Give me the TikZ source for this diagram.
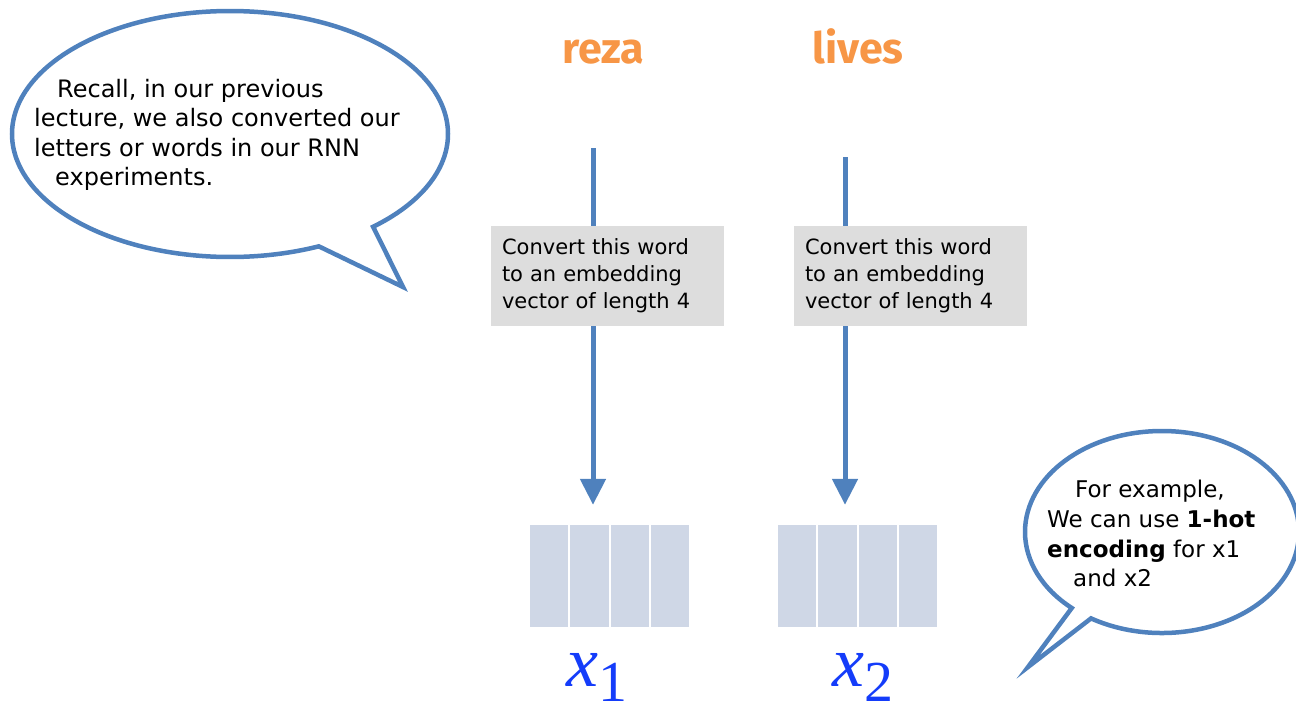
\documentclass[tikz,border=0pt]{standalone}
\usepackage{fontspec}
\usetikzlibrary{arrows.meta,shapes.callouts}
\newfontfamily\bodyfont{DejaVu Sans}
\newfontfamily\wordfont{Fira Sans}
\newfontfamily\varfont{Liberation Serif}
\definecolor{edgeblue}{HTML}{4F81BD}
\definecolor{wordorange}{HTML}{F79646}
\definecolor{boxgray}{HTML}{DDDDDD}
\definecolor{cellblue}{HTML}{CFD7E6}
\definecolor{varblue}{RGB}{20,60,250}
\begin{document}
\begin{tikzpicture}[x=1pt,y=-1pt,
  bubble/.style={ellipse callout, draw=edgeblue, line width=4.5pt, fill=white, inner sep=0pt},
  bubbletext/.style={anchor=base west, inner sep=0pt, font=\bodyfont\fontsize{24}{29}\selectfont},
  smalltext/.style={anchor=base west, inner sep=0pt, font=\bodyfont\fontsize{23}{29}\selectfont},
  word/.style={anchor=base, inner sep=0pt, text=wordorange, font=\wordfont\bfseries\fontsize{43}{43}\selectfont},
  flow/.style={draw=edgeblue, line width=5pt},
  flowtip/.style={flow, -{Triangle[width=25pt,length=26pt]}, shorten >=20pt},
  embedbox/.style={fill=boxgray, minimum height=100pt, text width=211pt, inner xsep=11pt, inner ysep=0pt, align=left, font=\bodyfont\fontsize{21}{27}\selectfont},
  cell/.style={fill=cellblue, minimum width=38.25pt, minimum height=102pt, inner sep=0pt},
  vecframe/.style={minimum width=159pt, minimum height=102pt, inner sep=0pt},
  var/.style={anchor=base west, inner sep=0pt, text=varblue}
]
\useasboundingbox (0,0) rectangle (1296,707);

% speech bubbles
\node[bubble, minimum width=436pt, minimum height=246pt,
      callout absolute pointer={(403,287)}, callout pointer arc=17] (recall) at (230,134) {};
\node[bubble, minimum width=274pt, minimum height=202pt,
      callout absolute pointer={(1028,667)}, callout pointer arc=10] (hint) at (1162,532) {};

\node[bubbletext] (r1) at (57,97) {Recall, in our previous};
\node[bubbletext] (r2) at (34,126) {lecture, we also converted our};
\node[bubbletext] (r3) at (34,156) {letters or words in our RNN};
\node[bubbletext] (r4) at (55,185) {experiments.};

\node[smalltext] (h1) at (1075,497) {For example,};
\node[smalltext] (h2) at (1047,527) {We can use \textbf{1-hot}};
\node[smalltext] (h3) at (1047,557) {\textbf{encoding} for x1};
\node[smalltext] (h4) at (1073,586) {and x2};

% input words
\node[word] (w1) at (603,63) {reza};
\node[word] (w2) at (858,63) {lives};

% embedding vectors (four cells each)
\node[vecframe] (v1) at (609.5,576) {};
\node[vecframe] (v2) at (857.5,576) {};
\foreach \v/\x in {v1/530, v2/778} {
  \foreach \k in {0,1,2,3} {
    \node[cell] (\v c\k) at ({\x+19.125+\k*40.25},576) {};
  }
}

% arrow start points
\coordinate (s1) at (593,148);
\coordinate (s2) at (845,157);

% lookup boxes
\node[embedbox] (e1) at (607.5,276) {Convert this word\\to an embedding\\vector of length 4};
\node[embedbox] (e2) at (910.5,276) {Convert this word\\to an embedding\\vector of length 4};

% arrows, interrupted by the boxes
\draw[flow] (s1) -- (s1 |- e1.north);
\draw[flowtip] (s1 |- e1.south) -- (s1 |- v1.north);
\draw[flow] (s2) -- (s2 |- e2.north);
\draw[flowtip] (s2 |- e2.south) -- (s2 |- v2.north);

% vector names
\node[var] (x1) at (566,686) {\varfont\itshape\fontsize{72}{72}\selectfont x\raisebox{-15pt}{\upshape\fontsize{58}{58}\selectfont 1}};
\node[var] (x2) at (832,686) {\varfont\itshape\fontsize{72}{72}\selectfont x\raisebox{-15pt}{\upshape\fontsize{58}{58}\selectfont 2}};
\end{tikzpicture}
\end{document}
